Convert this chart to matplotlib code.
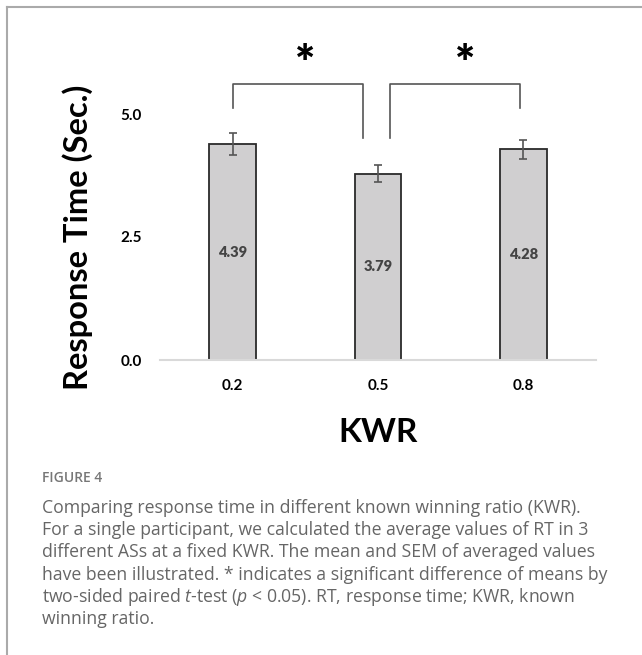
import matplotlib.pyplot as plt
import numpy as np

# donnees
kwr_labels = ['0.2', '0.5', '0.8']
mean_rt = [4.39, 3.79, 4.28]
sem_rt = [0.22, 0.175, 0.195]

caption_lines = [
    "Comparing response time in different known winning ratio (KWR).",
    "For a single participant, we calculated the average values of RT in 3",
    "different ASs at a fixed KWR. The mean and SEM of averaged values",
    "have been illustrated. * indicates a significant difference of means by",
    "two-sided paired $\\it{t}$-test ($\\it{p}$ < 0.05). RT, response time; KWR, known",
    "winning ratio.",
]

W, H = 642, 655
fig = plt.figure(figsize=(W / 100, H / 100), dpi=100)
plt.rcParams['font.family'] = ['Lato', 'DejaVu Sans']
plt.rcParams['mathtext.fontset'] = 'custom'
plt.rcParams['mathtext.it'] = 'Open Sans:italic'
plt.rcParams['mathtext.rm'] = 'Open Sans'

# axes en pixels
ax = fig.add_axes([160 / W, (H - 360) / H, 436 / W, 295.2 / H])
x = np.arange(len(kwr_labels))
ax.bar(x, mean_rt, width=0.32, color='#d0cfd0', edgecolor='#2a2a2a', linewidth=1.3, zorder=2)
ax.errorbar(x, mean_rt, yerr=sem_rt, fmt='none', ecolor='#555555', elinewidth=1.2,
            capsize=3, capthick=1.2, zorder=3)
for xi, v in zip(x, mean_rt):
    ax.text(xi, v / 2, f'{v:.2f}', ha='center', va='center',
            fontsize=10.5, fontweight='heavy', color='#444444')

ax.set_xlim(-0.5, 2.5)
ax.set_ylim(0, 6)
ax.set_yticks([0, 2.5, 5.0])
ax.set_yticklabels(['0.0', '2.5', '5.0'])
ax.set_xticks(x)
ax.set_xticklabels(kwr_labels)
for lab in ax.get_xticklabels() + ax.get_yticklabels():
    lab.set_fontweight('bold')
    lab.set_fontsize(11)
ax.tick_params(length=0, pad=14)
ax.tick_params(axis='y', pad=13)
for s in ['top', 'right', 'left']:
    ax.spines[s].set_visible(False)
ax.spines['bottom'].set_color('#d9d9d9')
ax.spines['bottom'].set_linewidth(1.5)

fig.text(78 / W, 1 - 237 / H, 'Response Time (Sec.)', rotation=90, fontsize=23.5,
         fontweight='bold', ha='center', va='center')
ax.set_xlabel('KWR', fontsize=24, fontweight='bold', labelpad=18)

# crochets de significativite
bc = '#555555'
ax.plot([0, 0, 0.9, 0.9], [5.12, 5.61, 5.61, 4.51], color=bc, lw=1.2, clip_on=False)
ax.plot([1.08, 1.08, 1.98, 1.98], [4.51, 5.61, 5.61, 5.12], color=bc, lw=1.2, clip_on=False)
ax.text(0.5, 6.0, '*', ha='center', va='center', fontsize=34, fontweight='heavy', clip_on=False)
ax.text(1.6, 6.0, '*', ha='center', va='center', fontsize=34, fontweight='heavy', clip_on=False)

# legende de figure
fig.text(42 / W, 1 - 478 / H, 'FIGURE 4', fontsize=10, color='#777777', family='Open Sans',
         fontweight='semibold', va='center')
for i, line in enumerate(caption_lines):
    fig.text(42 / W, 1 - (508 + 22.2 * i) / H, line, fontsize=12.7, color='#666666',
             family='Open Sans', va='center', ha='left')

# cadre gris
fig.add_artist(plt.Line2D([7 / W, 1], [1 - 7 / H, 1 - 7 / H], color='#aaaaaa', lw=1.5))
fig.add_artist(plt.Line2D([7 / W, 7 / W], [0, 1 - 7 / H], color='#aaaaaa', lw=1.5))

fig.savefig('out.png', dpi=100)
